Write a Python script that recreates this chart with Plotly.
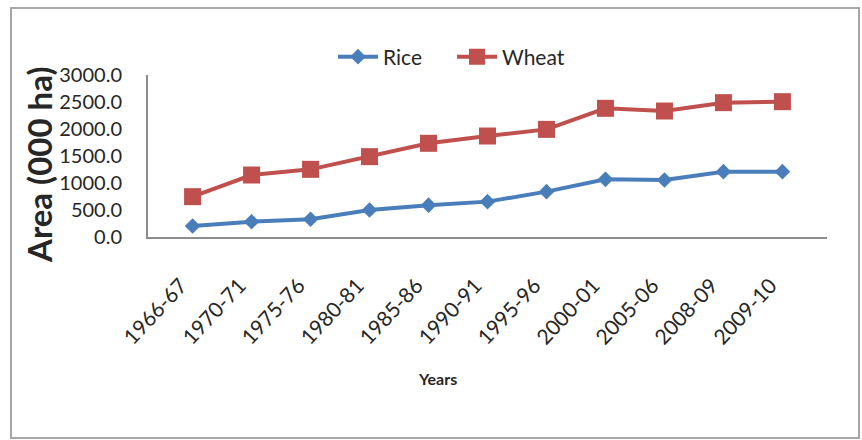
import plotly.graph_objects as go

# Area under rice and wheat, thousand hectares
years = ["1966-67", "1970-71", "1975-76", "1980-81", "1985-86", "1990-91",
         "1995-96", "2000-01", "2005-06", "2008-09", "2009-10"]
rice = [204, 283, 330, 500, 590, 655, 840, 1068, 1055, 1210, 1210]
wheat = [747, 1148, 1253, 1488, 1735, 1870, 1993, 2383, 2333, 2488, 2506]
y_ticks = [0, 500, 1000, 1500, 2000, 2500, 3000]

W, H = 862, 440
L, R, T, B = 148, 35, 75, 203
pw, ph = W - L - R, H - T - B


def px_x(px):
    return (px - L) / pw


def px_y(py):
    return (H - B - py) / ph


FONT = "Lato, 'Open Sans', sans-serif"
TXT = "#262626"
AXIS = "#8c8c8c"

fig = go.Figure()
fig.add_trace(go.Scatter(
    x=years, y=rice, name="Rice", mode="lines+markers",
    line=dict(color="#4a7ebb", width=4),
    marker=dict(symbol="diamond", size=12, color="#4a7ebb"),
))
fig.add_trace(go.Scatter(
    x=years, y=wheat, name="Wheat", mode="lines+markers",
    line=dict(color="#c0504d", width=4),
    marker=dict(symbol="square", size=17, color="#c0504d"),
))

fig.update_layout(
    width=W, height=H,
    margin=dict(l=L, r=R, t=T, b=B),
    paper_bgcolor="white", plot_bgcolor="white",
    font=dict(family=FONT, color=TXT),
    showlegend=True,
    legend=dict(orientation="h", x=px_x(333), y=px_y(57),
                xanchor="left", yanchor="middle",
                font=dict(size=21, color=TXT), itemwidth=40,
                entrywidth=64, entrywidthmode="pixels",
                bgcolor="rgba(0,0,0,0)"),
    xaxis=dict(
        type="category", showgrid=False, zeroline=False,
        showline=True, linecolor=AXIS, linewidth=2,
        ticks="", tickangle=-47, ticklabelstandoff=26, ticklabelshift=-12,
        tickfont=dict(size=21, color=TXT),
    ),
    yaxis=dict(
        range=[0, 3000], tickvals=y_ticks, tickformat=".1f",
        showgrid=False, zeroline=False,
        showline=True, linecolor=AXIS, linewidth=2,
        ticks="", ticklabelstandoff=20,
        tickfont=dict(size=20, color=TXT),
    ),
    shapes=[dict(
        type="rect", xref="paper", yref="paper",
        x0=px_x(11), x1=px_x(859), y0=px_y(438), y1=px_y(8),
        line=dict(color="#a6a6a6", width=2), layer="below",
    )],
    annotations=[
        dict(text="<b>Area (000 ha)</b>", xref="paper", yref="paper",
             x=px_x(39), y=px_y(165), textangle=-90, showarrow=False,
             xanchor="center", yanchor="middle",
             font=dict(size=33, color=TXT)),
        dict(text="<b>Years</b>", xref="paper", yref="paper",
             x=px_x(437), y=px_y(378), showarrow=False,
             xanchor="center", yanchor="middle",
             font=dict(size=16, color=TXT)),
    ],
)

fig.write_html("out.html")
